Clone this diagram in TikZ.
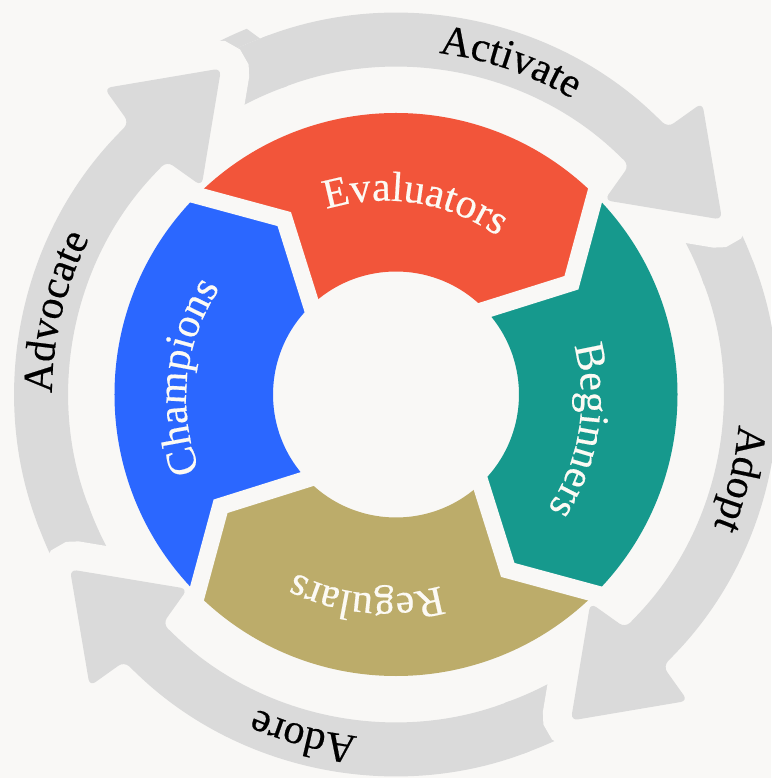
\documentclass[tikz,border=0pt]{standalone}
\usepackage{fontspec}
\newfontfamily\lblfont[FakeBold=0.4]{Liberation Serif}
\usetikzlibrary{decorations.text,calc}
\definecolor{bgc}{HTML}{F9F8F6}
\definecolor{arrg}{HTML}{DADADA}
\definecolor{evalc}{HTML}{F2553A}
\definecolor{begc}{HTML}{16998D}
\definecolor{regc}{HTML}{BCAC6A}
\definecolor{chac}{HTML}{2B67FF}
\definecolor{txtw}{HTML}{FCFAF4}
\newcommand\lblsize{\lblfont\fontsize{42}{50}\selectfont}
\newcommand\arclabel[4]{\path[decorate,decoration={text along path,text align=center,text color=#4,text={|\lblsize|#1}}] (#2+60:#3) arc[start angle=#2+60,end angle=#2-60,radius=#3];}
\newcommand\seglabel[3]{\path[decorate,decoration={text along path,text align=center,text color=txtw,text={|\lblsize|#1}}] ([shift={(-11.8,-4.1)}]#2+60:#3) arc[start angle=#2+60,end angle=#2-60,radius=#3];}
\begin{document}
\begin{tikzpicture}[x=1pt,y=1pt]
\fill[bgc] (-396,-383.5) rectangle (375,394.5);
\useasboundingbox (-396,-383.5) rectangle (375,394.5);
% tail pieces (P = join angle of the previous arrow head)
\foreach \P in {134.5,44.5,-45.5,-135.5} {
  \fill[arrg] (\P-2:327) arc[start angle=\P-2,end angle=\P-25,radius=327] -- (\P-25:381) arc[start angle=\P-25,end angle=\P-2,radius=381] -- cycle;
}
% small flare at the tail of Activate
\fill[arrg] (110.9:381) -- (112.2:395) arc[start angle=112.2,end angle=132.5,radius=395] -- (132.5:381) arc[start angle=132.5,end angle=110.9,radius=381] -- cycle;
% halos around heads
\foreach \J in {44.5,-45.5,-135.5,134.5} {
  \begin{scope}
    \clip (0,0) -- (\J-1:520) arc[start angle=\J-1,end angle=\J-50,radius=520] -- cycle;
    \draw[bgc,line width=58,rounded corners=7] (\J:381) -- (\J-0.9:423) -- (\J-16.3:370) -- (\J-1.5:285) -- (\J:327) -- cycle;
  \end{scope}
}
% arrows
\foreach \J/\P in {44.5/134.5,-45.5/44.5,-135.5/-45.5,134.5/224.5} {
  \fill[arrg,rounded corners=7] (\P-23:381) arc[start angle=\P-23,end angle=\J+2.5,radius=381] -- (\J:381) -- (\J-0.9:423) -- (\J-16.3:370) -- (\J-1.5:285) -- (\J:327) -- (\J+2.5:327) arc[start angle=\J+2.5,end angle=\P-23,radius=327] -- cycle;
}
\arclabel{Activate}{71}{344}{black}
\arclabel{Adopt}{-13.8}{344}{black}
\arclabel{Adore}{-105.2}{344}{black}
\arclabel{Advocate}{166.4}{344}{black}
% segments
\foreach \A/\col in {135/evalc,45/begc,-45/regc,-135/chac} {
  \fill[\col] (\A:281.5) arc[start angle=\A,end angle=\A-90,radius=281.5] -- (\A-102.5:208) -- (\A-91.5:123) arc[start angle=\A-91.5,end angle=\A-1.5,radius=123] -- (\A-12.5:208) -- cycle;
}
\begin{scope}
  \clip (0,0) circle (284);
  \foreach \A in {135,45,-45,-135} {
    \draw[bgc,line width=17,line join=miter] ($(\A-12.5:208)!1.25!(\A:281.5)$) -- (\A-12.5:208) -- ($(\A-12.5:208)!1.4!(\A-1.5:123)$);
  }
\end{scope}
\seglabel{Evaluators}{81}{198}
\seglabel{Beginners}{-9.2}{197}
\seglabel{Regulars}{-95.1}{195.5}
\seglabel{Champions}{173.7}{198}
\end{tikzpicture}
\end{document}
